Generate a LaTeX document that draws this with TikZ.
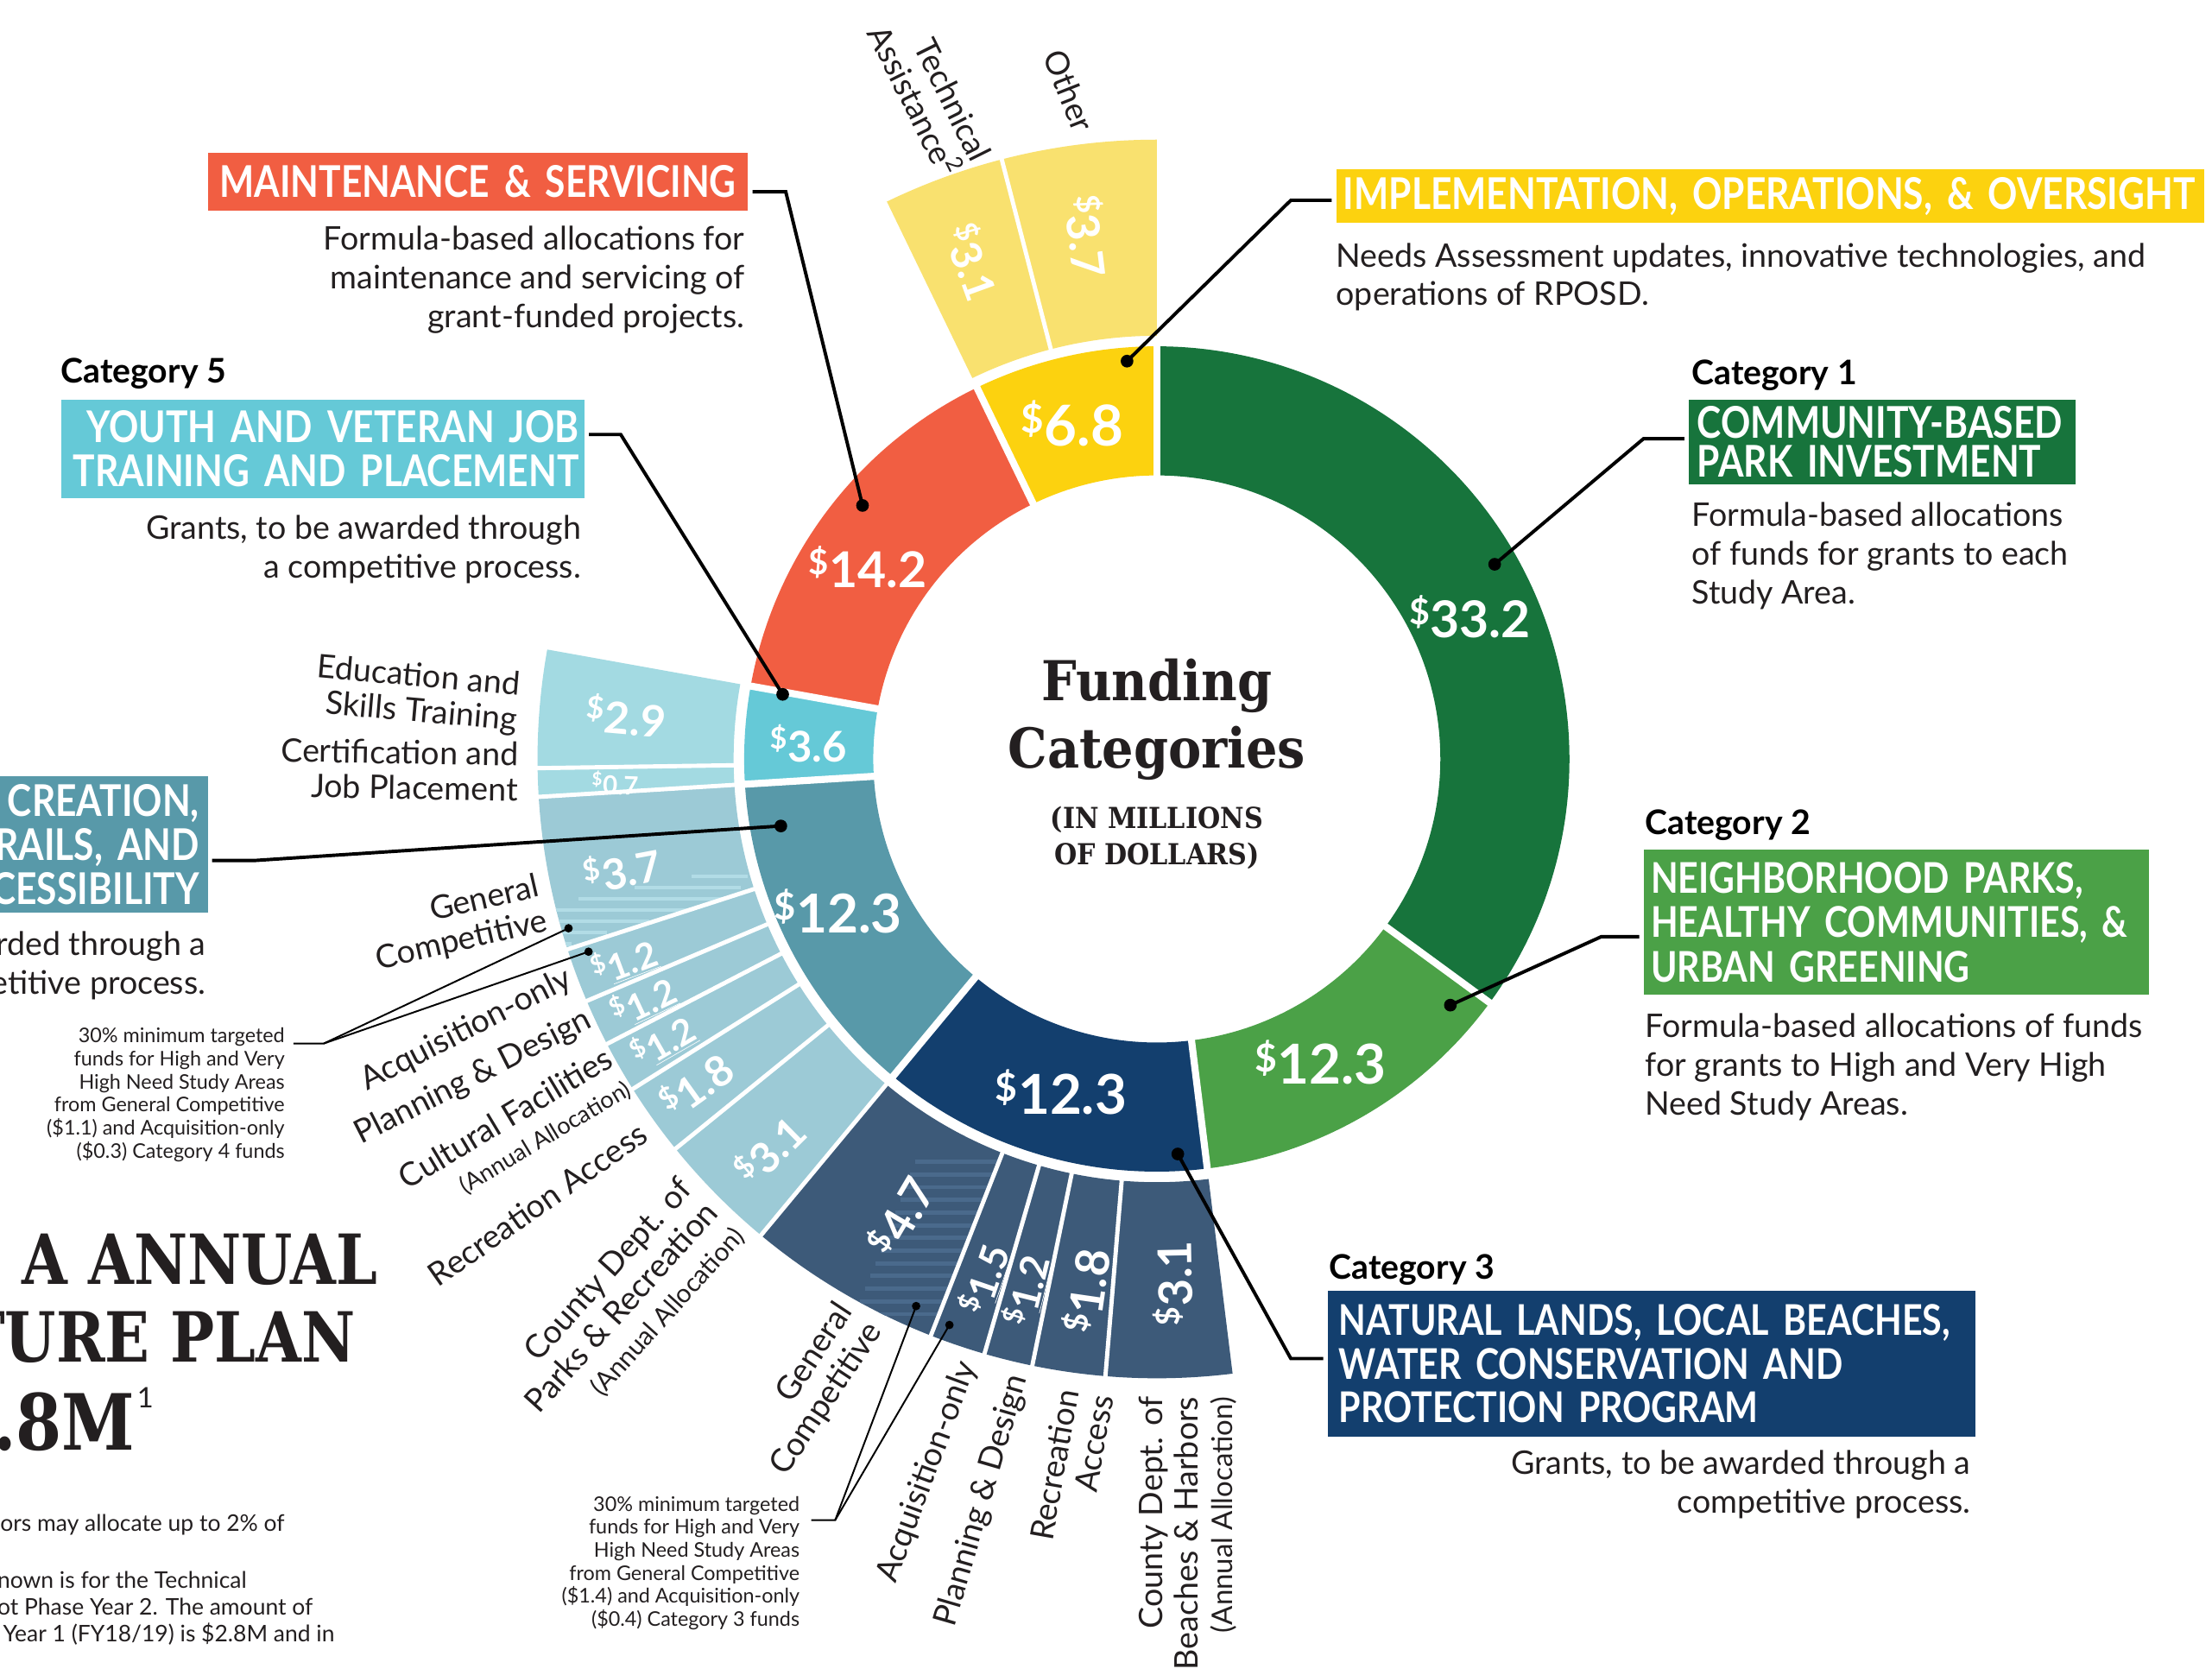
\documentclass[tikz,border=0pt]{standalone}
\usepackage{fontspec}
\setmainfont{Lato}
\newfontfamily\slabfont[FakeStretch=0.9]{DejaVu Serif}
\newfontfamily\titlefont[FakeStretch=0.85]{DejaVu Serif}
\newfontfamily\hdfont[FakeStretch=0.84]{Lato}
\usetikzlibrary{calc}
\definecolor{cOne}{HTML}{17743C}
\definecolor{cTwo}{HTML}{4BA147}
\definecolor{cThree}{HTML}{133F6E}
\definecolor{cThreeL}{HTML}{3D5A79}
\definecolor{cThreeS}{HTML}{4A6A8C}
\definecolor{cFour}{HTML}{5899A9}
\definecolor{cFourL}{HTML}{9CCAD6}
\definecolor{cFourS}{HTML}{B2DCE6}
\definecolor{cFive}{HTML}{65C9D7}
\definecolor{cFiveL}{HTML}{A3DAE2}
\definecolor{cMaint}{HTML}{F15E42}
\definecolor{cImpl}{HTML}{FCD20F}
\definecolor{cImplL}{HTML}{F9E16F}
\definecolor{ink}{HTML}{231F20}
\newcommand\dol{\textsuperscript{\$}}
\newcommand\setfs[2]{\fontsize{#1}{#2}\selectfont}
\newcommand\annsec[5]{\fill[#1] (#2:#5) arc[start angle=#2,end angle=#3,radius=#5] -- (#3:#4) arc[start angle=#3,end angle=#2,radius=#4] -- cycle;}
\tikzset{
  hdbox/.style={inner ysep=0pt, text=white, font=\hdfont\bfseries\setfs{31}{31}},
  body/.style={inner sep=0pt, text=ink, font=\setfs{23}{27.5}},
  catlbl/.style={inner sep=0pt, text=black, font=\bfseries\setfs{24}{26}, anchor=west},
  ringnum/.style={text=white, inner sep=0pt},
  extnum/.style={text=white, font=\bfseries\setfs{31}{32}, inner sep=0pt},
  sublbl/.style={inner sep=0pt, text=ink, font=\setfs{23}{25}, anchor=east},
  lead/.style={draw=black, line width=2.4pt},
  thinlead/.style={draw=black, line width=1.2pt},
  bigdot/.style={circle, fill=black, inner sep=0pt, minimum size=9pt},
  smalldot/.style={circle, fill=black, inner sep=0pt, minimum size=6pt},
  note/.style={inner sep=0pt, text=ink, font=\setfs{14.3}{16.3}, align=right, anchor=north east},
  foot/.style={inner sep=0pt, text=ink, font=\setfs{16.2}{18}, anchor=west},
  titl/.style={inner sep=0pt, text=ink, font=\titlefont\bfseries\setfs{49}{55}, anchor=east},
}
\begin{document}
\begin{tikzpicture}[x=1pt,y=1pt]
\useasboundingbox (0,0) rectangle (1568,1187);
\fill[white] (0,0) rectangle (1568,1187);

% ---------------- ring ----------------
\begin{scope}[shift={(820,649)}]
 \annsec{cOne}{-36.21}{90}{201}{292.5}
 \annsec{cTwo}{-82.97}{-36.21}{201}{292.5}
 \annsec{cThree}{-129.73}{-82.97}{201}{292.5}
 \annsec{cFour}{-176.49}{-129.73}{201}{292.5}
 \annsec{cFive}{169.82}{183.51}{201}{292.5}
 \annsec{cMaint}{115.84}{169.82}{201}{292.5}
 \annsec{cImpl}{90}{115.84}{201}{292.5}
 \foreach \a in {90,-36.21,-82.97,-129.73,-176.49,169.82,115.84}
   \draw[white, line width=5pt] (\a:195) -- (\a:297);
 % outer extensions
 \annsec{cImplL}{90}{115.84}{300}{439}
 \annsec{cFiveL}{169.82}{183.51}{300}{439}
 \annsec{cFourL}{183.51}{230.27}{300}{439}
 \annsec{cThreeL}{230.27}{277.03}{300}{439}
 % stripes
 \begin{scope}
  \clip (183.51:300) arc[start angle=183.51,end angle=197.9,radius=300] -- (197.9:439) arc[start angle=197.9,end angle=183.51,radius=439] -- cycle;
  \foreach \yy/\xa/\xb in {-82/-330/-290, -90/-370/-295, -98/-410/-300, -106/-440/-330, -114/-440/-360, -122/-440/-390, -130/-440/-415}
    \fill[cFourS] (\xa,\yy) rectangle (\xb,{\yy-2.5});
 \end{scope}
 \begin{scope}
  \clip (230.27:300) arc[start angle=230.27,end angle=248.6,radius=300] -- (248.6:439) arc[start angle=248.6,end angle=230.27,radius=439] -- cycle;
  \foreach \yy in {-284,-293,...,-400}
    \fill[cThreeS] ({0.392*\yy-60},\yy) rectangle ({0.392*\yy},{\yy-3});
 \end{scope}
 \foreach \a in {104.5,180.85,183.51,197.9,203.0,207.4,212.2,219.0,230.27,248.6,253.84,258.4,265.24}
   \draw[white, line width=3pt] (\a:298) -- (\a:441);
\end{scope}

% ---------------- ring numbers ----------------
\node[ringnum, font=\bfseries\setfs{36}{38}] (n332) at (1042,750) {\dol33.2};
\node[ringnum, font=\bfseries\setfs{39}{40}] (n123b) at (936,434) {\dol12.3};
\node[ringnum, font=\bfseries\setfs{39}{40}] (n123c) at (752,413) {\dol12.3};
\node[ringnum, font=\bfseries\setfs{38}{40}] (n123d) at (594,541) {\dol12.3};
\node[ringnum, font=\bfseries\setfs{30}{32}] (n36) at (573,660) {\dol3.6};
\node[ringnum, font=\bfseries\setfs{35}{36}] (n142) at (615,785) {\dol14.2};
\node[ringnum, font=\bfseries\setfs{40}{42}] (n68) at (760,887) {\dol6.8};

% extension numbers
\node[extnum, font=\bfseries\setfs{30}{32}, rotate=-70] (e31a) at (689.5,1001.4) {\dol3.1};
\node[extnum, font=\bfseries\setfs{32}{33}, rotate=-83] (e37a) at (771,1019.7) {\dol3.7};
\node[extnum, rotate=-5] (e29) at (444,679.7) {\dol2.9};
\node[extnum, font=\bfseries\setfs{18}{19}, rotate=-2] (e07) at (436,632) {\dol0.7};
\node[extnum, font=\bfseries\setfs{30}{32}, rotate=10.7] (e37b) at (441,570.9) {\dol3.7};
\node[extnum, font=\bfseries\setfs{25.5}{27}, rotate=20.5] (e12a) at (442.5,505.4) {\dol\underline{1.2}};
\node[extnum, font=\bfseries\setfs{25.5}{27}, rotate=25.2] (e12b) at (456,477.2) {\dol\underline{1.2}};
\node[extnum, font=\bfseries\setfs{25.5}{27}, rotate=29.8] (e12c) at (470,448.8) {\dol\underline{1.2}};
\node[extnum, font=\bfseries\setfs{30}{32}, rotate=35.6] (e18a) at (493,418.3) {\dol1.8};
\node[extnum, font=\bfseries\setfs{30}{32}, rotate=44.6] (e31b) at (545,371.8) {\dol3.1};
\node[extnum, font=\bfseries\setfs{32}{33}, rotate=59.4] (e47) at (638,325.1) {\dol4.7};
\node[extnum, font=\bfseries\setfs{27.5}{29}, rotate=71.2] (e15) at (697.5,280) {\dol\underline{1.5}};
\node[extnum, font=\bfseries\setfs{27.5}{29}, rotate=76.1] (e12d) at (727.4,272.2) {\dol\underline{1.2}};
\node[extnum, font=\bfseries\setfs{33}{34}, rotate=81.8] (e18b) at (769.5,272.2) {\dol1.8};
\node[extnum, font=\bfseries\setfs{33}{34}, rotate=91.1] (e31c) at (831,277.4) {\dol3.1};

% ---------------- centre ----------------
\node[text=ink, inner sep=0pt, align=center, font=\slabfont\bfseries\setfs{39}{47.5}] (fund) at (820,677) {Funding\\Categories};
\node[text=ink, inner sep=0pt, align=center, font=\slabfont\bfseries\setfs{20.5}{26}] (units) at (820,593) {(IN MILLIONS\\OF DOLLARS)};

% ---------------- outer sub labels ----------------
\node[sublbl, align=right, anchor=center, rotate=-63.5] (lta) at (659,1121) {Technical\\Assistance\textsuperscript{2}};
\node[sublbl, anchor=center, rotate=-68.5] (loth) at (758,1122.7) {Other};
\node[sublbl, align=right, rotate=-5] (ledu) at (367.5,688) {Education and\\Skills Training};
\node[sublbl, align=right, rotate=-1] (lcert) at (367.5,640) {Certification and\\Job Placement};
\node[sublbl, align=right, rotate=13] (lgc4) at (385,546) {General\\Competitive};
\node[sublbl, rotate=27] (lacq4) at (404,494) {Acquisition-only};
\node[sublbl, rotate=27] (lpd4) at (418,465) {Planning \& Design};
\node[sublbl, rotate=31] (lcf4) at (432,439) {Cultural Facilities};
\node[sublbl, font=\setfs{16.7}{18}, rotate=31] (lann4) at (446,416) {(Annual Allocation)};
\node[sublbl, rotate=35] (lra4) at (456,386) {Recreation Access};
\node[sublbl, align=right, rotate=48] (lcp4) at (505,331) {County Dept. of\\Parks \& Recreation\\{\setfs{18.4}{21}(Annual Allocation)}};
\node[sublbl, align=right, rotate=56.5] (lgc3) at (610,254) {General\\Competitive};
\node[sublbl, rotate=69.7] (lacq3) at (686,221) {Acquisition-only};
\node[sublbl, rotate=73.8] (lpd3) at (722,212) {Planning \& Design};
\node[sublbl, align=right, rotate=80] (lra3) at (769,200) {Recreation\\Access};
\node[sublbl, align=right, rotate=90] (lcb3) at (842,197) {County Dept. of\\Beaches \& Harbors\\{\setfs{20.2}{23}(Annual Allocation)}};

% ---------------- boxes ----------------
\node[hdbox, fill=cMaint, anchor=north west, minimum width=383pt, minimum height=41pt, inner xsep=6pt, text width=371pt, align=center] (maintbox) at (147,1079) {\mbox{MAINTENANCE \& SERVICING}};
\node[hdbox, fill=cImpl, anchor=north west, minimum width=615pt, minimum height=38pt, inner xsep=5pt, text width=605pt, align=left] (implbox) at (947,1067) {\mbox{IMPLEMENTATION, OPERATIONS, \& OVERSIGHT}};
\node[hdbox, fill=cFive, anchor=north west, minimum width=371pt, minimum height=70pt, inner xsep=4pt, text width=363pt, align=right] (c5box) at (43,904) {\mbox{YOUTH AND VETERAN JOB}\\\mbox{TRAINING AND PLACEMENT}};
\node[hdbox, fill=cFour, anchor=north west, minimum width=167pt, minimum height=97pt, inner xsep=6pt, text width=155pt, align=right] (c4box) at (-20,637) {CREATION,\\RAILS, AND\\CESSIBILITY};
\node[hdbox, fill=cOne, anchor=north west, minimum width=274pt, minimum height=60pt, inner xsep=6pt, text width=262pt, align=left, font=\hdfont\bfseries\setfs{31}{27}] (c1box) at (1197,904) {\mbox{COMMUNITY-BASED}\\\mbox{PARK INVESTMENT}};
\node[hdbox, fill=cTwo, anchor=north west, minimum width=358pt, minimum height=103pt, inner xsep=5pt, text width=348pt, align=left, font=\hdfont\bfseries\setfs{30}{31.5}] (c2box) at (1165,585) {\mbox{NEIGHBORHOOD PARKS,}\\\mbox{HEALTHY COMMUNITIES, \&}\\\mbox{URBAN GREENING}};
\node[hdbox, fill=cThree, anchor=north west, minimum width=459pt, minimum height=103pt, inner xsep=8pt, text width=443pt, align=left, font=\hdfont\bfseries\setfs{30}{31}] (c3box) at (941,272) {\mbox{NATURAL LANDS, LOCAL BEACHES,}\\\mbox{WATER CONSERVATION AND}\\\mbox{PROTECTION PROGRAM}};

% category labels
\node[catlbl] (c5lbl) at (43,922) {Category 5};
\node[catlbl] (c1lbl) at (1199,921) {Category 1};
\node[catlbl] (c2lbl) at (1166,602) {Category 2};
\node[catlbl] (c3lbl) at (942,287) {Category 3};

% body texts
\node[body, align=right, anchor=north east] (maintbody) at (528,1027) {Formula-based allocations for\\maintenance and servicing of\\grant-funded projects.};
\node[body, align=right, anchor=north east] (c5body) at (412,822) {Grants, to be awarded through\\a competitive process.};
\node[body, align=right, anchor=north east] (c4body) at (146,527) {rded through a\\etitive process.};
\node[body, align=left, anchor=north west] (implbody) at (947,1015) {Needs Assessment updates, innovative technologies, and\\operations of RPOSD.};
\node[body, align=left, anchor=north west] (c1body) at (1199,831) {Formula-based allocations\\of funds for grants to each\\Study Area.};
\node[body, align=left, anchor=north west] (c2body) at (1166,469) {Formula-based allocations of funds\\for grants to High and Very High\\Need Study Areas.};
\node[body, align=right, anchor=north east] (c3body) at (1397,159) {Grants, to be awarded through a\\competitive process.};

% notes
\node[note] (n4note) at (202,458.5) {30\% minimum targeted\\funds for High and Very\\High Need Study Areas\\from General Competitive\\(\$1.1) and Acquisition-only\\(\$0.3) Category 4 funds};
\node[note] (n3note) at (567,126.5) {30\% minimum targeted\\funds for High and Very\\High Need Study Areas\\from General Competitive\\(\$1.4) and Acquisition-only\\(\$0.4) Category 3 funds};

% title and footnotes
\node[titl] (t1) at (268,294) {A ANNUAL};
\node[titl] (t2) at (252,239) {TURE PLAN};
\node[titl, font=\titlefont\bfseries\setfs{55}{60}] (t3) at (96,179) {.8M};
\node[inner sep=0pt, text=ink, font=\setfs{20}{20}] (t3s) at (103,196) {1};
\node[foot] (f1) at (-7,106) {sors may allocate up to 2\% of};
\node[foot] (f2) at (-2,67) {nown is for the Technical};
\node[foot] (f3) at (-2,48) {ot Phase Year 2. The amount of};
\node[foot] (f4) at (2,29) {Year 1 (FY18/19) is \$2.8M and in};

% ---------------- leaders ----------------
\node[bigdot] (mDot) at (611.4,828.7) {};
\node[bigdot] (iDot) at (798.9,931) {};
\node[bigdot] (c1Dot) at (1059.5,787) {};
\node[bigdot] (c2Dot) at (1028.1,474.5) {};
\node[bigdot] (c3Dot) at (834.9,369) {};
\node[bigdot] (c5Dot) at (554.8,694.8) {};
\node[bigdot] (c4Dot) at (553.5,601.5) {};
\coordinate (mElb) at (557,1051);
\coordinate (iElb) at (915,1045);
\coordinate (c1Elb) at (1165,876);
\coordinate (c2Elb) at (1135,523);
\coordinate (c3Elb) at (915,224);
\coordinate (c5Elb) at (440,879);
\coordinate (c4Elb) at (180,577);
\draw[lead, shorten <=3pt] (maintbox.east |- mElb) -- (mElb) -- (mDot.center);
\draw[lead, shorten <=3pt] (implbox.west |- iElb) -- (iElb) -- (iDot.center);
\draw[lead, shorten <=3pt] (c1box.west |- c1Elb) -- (c1Elb) -- (c1Dot.center);
\draw[lead, shorten <=3pt] (c2box.west |- c2Elb) -- (c2Elb) -- (c2Dot.center);
\draw[lead, shorten <=3pt] (c3box.west |- c3Elb) -- (c3Elb) -- (c3Dot.center);
\draw[lead, shorten <=3pt] (c5box.east |- c5Elb) -- (c5Elb) -- (c5Dot.center);
\draw[lead, shorten <=3pt] (c4box.east |- c4Elb) -- (c4Elb) -- (c4Dot.center);

\node[smalldot] (n4DotA) at (403,529) {};
\node[smalldot] (n4DotB) at (417.2,512.4) {};
\node[smalldot] (n3DotA) at (649.4,261.2) {};
\node[smalldot] (n3DotB) at (673,247.8) {};
\coordinate (n4Elb) at (229.5,447.3);
\coordinate (n3Elb) at (592,109.4);
\draw[thinlead, shorten <=6pt] (n4note.east |- n4Elb) -- (n4Elb) -- (n4DotA.center);
\draw[thinlead] (n4Elb) -- (n4DotB.center);
\draw[thinlead, shorten <=8pt] (n3note.east |- n3Elb) -- (n3Elb) -- (n3DotA.center);
\draw[thinlead] (n3Elb) -- (n3DotB.center);
\end{tikzpicture}
\end{document}
